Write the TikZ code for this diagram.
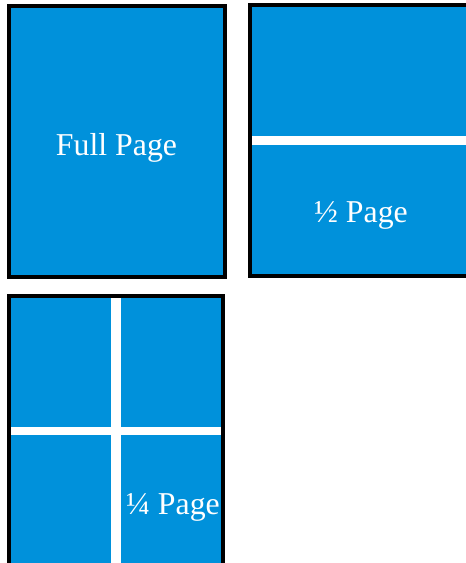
\documentclass[tikz,border=0pt]{standalone}
\usepackage{fontspec}
\setmainfont{Liberation Serif}
\definecolor{pageblue}{RGB}{0,145,219}
\begin{document}
\begin{tikzpicture}[
  x=1pt,y=-1pt,
  sheet/.style={draw=black, line width=4pt, fill=pageblue},
  gutter/.style={fill=white},
  caption/.style={text=white, font=\fontsize{31.8}{36}\selectfont, anchor=base}
]
\useasboundingbox (0,0) rectangle (466,563);
\clip (0,0) rectangle (466,563);

% full page
\draw[sheet] (9,6) rectangle (225,277);
\node[caption] (full) at (116.5,155) {Full Page};

% half page
\draw[sheet] (250,5) rectangle (472,276);
\fill[gutter] (252,136) rectangle (466,145);
\node[caption] (half) at (361,222) {½ Page};

% quarter page
\draw[sheet] (9,296) rectangle (223,572);
\fill[gutter] (111,298) rectangle (121,563);
\fill[gutter] (11,427) rectangle (221,435);
\node[caption] (quarter) at (173,514) {¼ Page};
\end{tikzpicture}
\end{document}
